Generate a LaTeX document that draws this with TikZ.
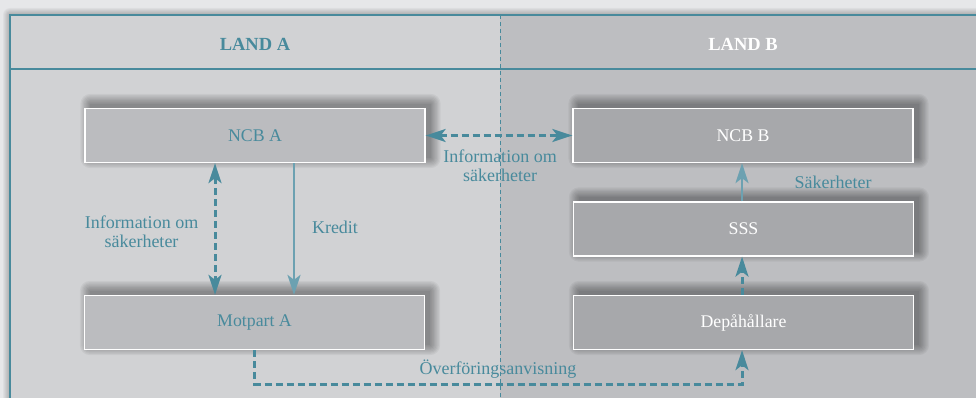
\documentclass[tikz,border=0pt]{standalone}
\usepackage{fontspec}
\setmainfont{Liberation Serif}
\usetikzlibrary{arrows.meta,calc}
\definecolor{teal1}{RGB}{72,138,156}
\definecolor{teallight}{RGB}{108,161,177}
\definecolor{outerbg}{RGB}{230,231,233}
\definecolor{leftbg}{RGB}{209,210,212}
\definecolor{rightbg}{RGB}{189,190,193}
\definecolor{boxA}{RGB}{187,188,191}
\definecolor{boxB}{RGB}{167,168,171}
\pgfdeclarelayer{bglayer}
\pgfdeclarelayer{shadowlayer}
\pgfsetlayers{bglayer,shadowlayer,main}
\newcommand{\boxshadow}[1]{%
  \foreach \r in {0,1.25,...,10} {
    \fill[black, opacity=0.045, rounded corners=\r pt]
      ($(#1.south west)+(6-\r, -5+\r)$) rectangle ($(#1.north east)+(5+\r, -4-\r)$);
  }%
}
\tikzset{
  box/.style={draw=white, line width=1.3pt, minimum width=340pt, minimum height=54pt,
    inner sep=0pt, font=\fontsize{17.8}{19}\selectfont},
  boxa/.style={box, fill=boxA, text=teal1},
  boxb/.style={box, fill=boxB, text=white},
  lbl/.style={text=teal1, font=\fontsize{18}{19}\selectfont, align=center, inner sep=0pt},
  head/.style={font=\fontsize{18.5}{20}\selectfont\bfseries, inner sep=0pt},
  dasharr/.style={draw=teal1, line width=3pt, dash pattern=on 7pt off 4pt},
  tip/.style={-{Stealth[length=20pt,width=13pt,inset=5pt]}},
  dtip/.style={{Stealth[length=20pt,width=13pt,inset=5pt]}-{Stealth[length=20pt,width=13pt,inset=5pt]}},
}
\begin{document}
\begin{tikzpicture}[x=1pt,y=-1pt]
\useasboundingbox (0,0) rectangle (976,398);
\clip (0,0) rectangle (976,398);
\begin{pgfonlayer}{bglayer}
\fill[outerbg] (0,0) rectangle (976,398);
\foreach \r in {1,2,...,7} {
  \fill[black, opacity=0.035, rounded corners=\r pt] (10-\r,15-\r) rectangle (990+\r,420+\r);
}
\fill[leftbg] (10,15) rectangle (500,420);
\fill[rightbg] (500,15) rectangle (990,420);
\end{pgfonlayer}
% frame
\draw[teal1, line width=1.3pt] (10,15) rectangle (990,420);
\draw[teal1, line width=1.1pt] (10,69) -- (990,69);
\draw[teal1, line width=0.9pt, dash pattern=on 4pt off 3pt] (500,15) -- (500,420);
% headers
\node[head, text=teal1] (landa) at (255,44) {LAND A};
\node[head, text=white] (landb) at (743,44) {LAND B};
% boxes
\node[boxa] (ncba) at (255,135.5) {NCB A};
\node[boxb] (ncbb) at (743,135.5) {NCB B};
\node[boxb] (sss) at (743.5,229) {SSS};
\node[boxa] (motp) at (254.5,322.5) {Motpart A};
\node[boxb] (depa) at (743.5,322.5) {Depåhållare};
\begin{pgfonlayer}{shadowlayer}
\boxshadow{ncba}
\boxshadow{ncbb}
\boxshadow{sss}
\boxshadow{motp}
\boxshadow{depa}
\end{pgfonlayer}
% connectors
\draw[dasharr, dtip] (ncba.east) -- (ncbb.west);
\node[lbl] (infomid) at (500,166) {Information om\\säkerheter};
\draw[dasharr, dtip] ([xshift=-40pt]ncba.south) -- ([xshift=-39.5pt]motp.north);
\node[lbl] (infoleft) at (141.5,232) {Information om\\säkerheter};
\draw[teallight, line width=2pt, tip] ([xshift=39pt]ncba.south) -- ([xshift=39.5pt]motp.north);
\node[lbl] (kredit) at (335,227) {Kredit};
\draw[teallight, line width=2pt, tip] ([xshift=-1.5pt]sss.north) -- ([xshift=-1pt]ncbb.south);
\node[lbl] (saker) at (833,182) {Säkerheter};
\draw[dasharr, tip] ([xshift=-1.5pt]sss.south |- depa.north) -- ([xshift=-1.5pt]sss.south);
\coordinate (c1) at ($(motp.south)+(0,34)$);
\draw[dasharr, tip] (motp.south) -- (c1) -| ([xshift=-1.5pt]depa.south);
\node[lbl] (overf) at (498,369) {Överföringsanvisning};
\end{tikzpicture}
\end{document}
